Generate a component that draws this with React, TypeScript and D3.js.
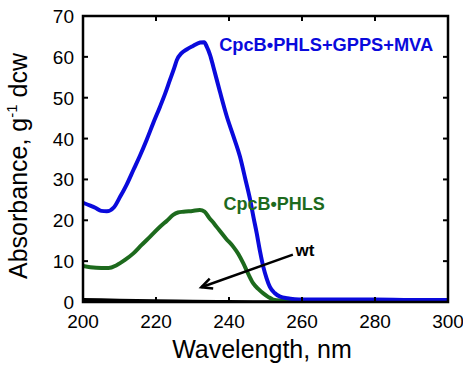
import React from 'react';
import * as d3 from 'd3';

const W = 463;
const H = 370;
const margin = { top: 16, right: 15, bottom: 68, left: 83 };

const xTicks = [200, 220, 240, 260, 280, 300];
const yTicks = [0, 10, 20, 30, 40, 50, 60, 70];

// blue: CpcB•PHLS+GPPS+MVA
const mvaWl = [200, 202, 203.5, 205, 206.5, 208.5, 210.2, 212, 213.8, 215.6, 217.4, 219.2, 221.1, 222.5, 223.8, 225, 225.7, 227, 228.4, 230, 232.1, 233.2, 233.9, 234.8, 235.7, 237.5, 239.4, 241.2, 243, 244.5, 245.8, 246.7, 247.6, 248.5, 249.4, 250.3, 251.2, 252.5, 254, 256, 258, 260, 270, 280, 290, 300];
const mvaAbs = [24.3, 23.6, 23.0, 22.3, 22.2, 23.2, 25.8, 28.8, 32.3, 35.8, 39.6, 43.7, 47.8, 51.0, 54.3, 57.3, 59.2, 60.9, 61.8, 62.6, 63.5, 63.6, 62.5, 60.5, 57.6, 51.5, 45.4, 40.6, 35.6, 30.0, 25.0, 20.8, 16.8, 12.4, 8.6, 5.8, 3.7, 2.2, 1.3, 0.9, 0.7, 0.6, 0.6, 0.6, 0.5, 0.5];

// green: CpcB•PHLS
const phlsWl = [200, 202, 205, 207, 209.2, 211.5, 213.8, 216, 218.4, 221.1, 223, 224.7, 226, 227.5, 230, 232, 233.3, 234.5, 236, 237.3, 239.2, 241.2, 242.6, 243.9, 245.2, 246.6, 248, 249.4, 250.8, 252.1, 254, 256, 260, 280, 300];
const phlsAbs = [8.8, 8.5, 8.3, 8.3, 9.0, 10.3, 11.9, 13.9, 16.0, 18.4, 19.9, 21.3, 21.9, 22.1, 22.3, 22.5, 22.1, 20.7, 19.1, 17.6, 15.5, 13.5, 11.7, 9.5, 7.0, 4.6, 3.2, 2.1, 1.2, 0.6, 0.35, 0.3, 0.3, 0.3, 0.3];

// black: wt
const wtWl = [200, 210, 220, 230, 240, 250, 260, 280, 300];
const wtAbs = [0.6, 0.45, 0.3, 0.2, 0.1, 0.05, 0.05, 0.05, 0.05];

const series = [
  { name: 'wt', wl: wtWl, abs: wtAbs, color: '#000000', width: 3 },
  { name: 'CpcB•PHLS', wl: phlsWl, abs: phlsAbs, color: '#1d6a1d', width: 4 },
  { name: 'CpcB•PHLS+GPPS+MVA', wl: mvaWl, abs: mvaAbs, color: '#0a0adc', width: 4 },
];

export default function App() {
  const x = d3.scaleLinear().domain([200, 300]).range([margin.left, W - margin.right]);
  const y = d3.scaleLinear().domain([0, 70]).range([H - margin.bottom, margin.top]);

  const line = d3.line<[number, number]>()
    .x(d => x(d[0]))
    .y(d => y(d[1]))
    .curve(d3.curveMonotoneX);

  const font = 'Liberation Sans, Arial, sans-serif';
  const tick = 5;
  const x0 = x(200), x1 = x(300), y0 = y(0), y1 = y(70);

  return (
    <svg width={W} height={H} style={{ position: 'absolute', left: 0, top: 0, background: '#fff' }} fontFamily={font}>
      <defs>
        <clipPath id="plot">
          <rect x={x0} y={y1} width={x1 - x0} height={y0 - y1} />
        </clipPath>
      </defs>

      <g clipPath="url(#plot)">
        {series.map(s => (
          <path
            key={s.name}
            d={line(s.wl.map((w, i) => [w, s.abs[i]] as [number, number])) || ''}
            fill="none"
            stroke={s.color}
            strokeWidth={s.width}
            strokeLinejoin="round"
          />
        ))}
      </g>

      {/* frame */}
      <rect x={x0} y={y1} width={x1 - x0} height={y0 - y1} fill="none" stroke="#000" strokeWidth={2.5} />

      {xTicks.map(t => (
        <g key={'x' + t}>
          <line x1={x(t)} x2={x(t)} y1={y0} y2={y0 - tick} stroke="#000" strokeWidth={2} />
          <line x1={x(t)} x2={x(t)} y1={y1} y2={y1 + tick} stroke="#000" strokeWidth={2} />
          <text x={x(t)} y={y0 + 26} fontSize={19} textAnchor="middle" fill="#000">{t}</text>
        </g>
      ))}
      {yTicks.map(t => (
        <g key={'y' + t}>
          <line x1={x0} x2={x0 + tick} y1={y(t)} y2={y(t)} stroke="#000" strokeWidth={2} />
          <line x1={x1} x2={x1 - tick} y1={y(t)} y2={y(t)} stroke="#000" strokeWidth={2} />
          <text x={x0 - 9} y={y(t) + 7} fontSize={19} textAnchor="end" fill="#000">{t}</text>
        </g>
      ))}

      <text x={262} y={358} fontSize={25} textAnchor="middle" fill="#000">Wavelength, nm</text>
      <text transform={`translate(27, 166) rotate(-90)`} fontSize={25} textAnchor="middle" fill="#000">
        Absorbance, g<tspan fontSize={15} dy={-10}>-1</tspan><tspan dy={10}> dcw</tspan>
      </text>

      {/* annotations */}
      <text x={x(237.3)} y={y(61.4)} fontSize={18} fontWeight="bold" fill="#0a0adc" textLength={214} lengthAdjust="spacingAndGlyphs">CpcB•PHLS+GPPS+MVA</text>
      <text x={x(238.5)} y={y(22.6)} fontSize={18} fontWeight="bold" fill="#1d6a1d">CpcB•PHLS</text>
      <text x={x(258.2)} y={y(11.2)} fontSize={17} fontWeight="bold" fill="#000">wt</text>

      <line x1={x(257.5)} y1={y(11.6)} x2={x(232.4)} y2={y(3.6)} stroke="#000" strokeWidth={2.5} />
      <path
        d={(() => {
          const ex = x(232.4), ey = y(3.6);
          const ang = Math.atan2(y(11.6) - ey, x(257.5) - ex);
          const len = 12, spread = 0.45;
          const ax = ex + len * Math.cos(ang + spread), ay = ey + len * Math.sin(ang + spread);
          const bx = ex + len * Math.cos(ang - spread), by = ey + len * Math.sin(ang - spread);
          return `M${ax},${ay}L${ex},${ey}L${bx},${by}`;
        })()}
        fill="none"
        stroke="#000"
        strokeWidth={2.5}
      />
    </svg>
  );
}
